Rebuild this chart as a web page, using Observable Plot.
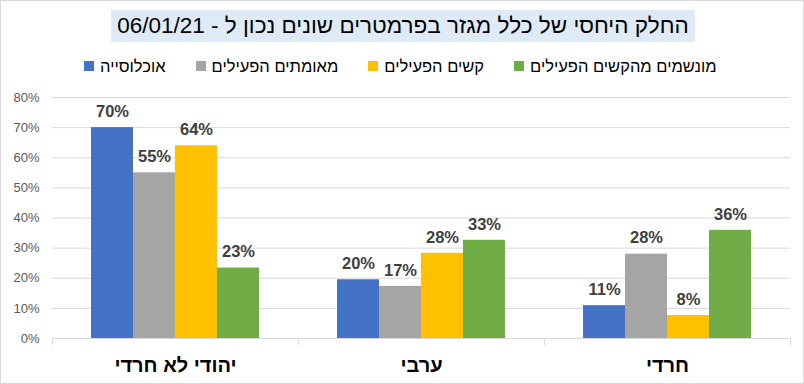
<!DOCTYPE html>
<html><head><meta charset="utf-8">
<script src="https://cdn.jsdelivr.net/npm/d3@7"></script>
<script src="https://cdn.jsdelivr.net/npm/@observablehq/plot@0.6"></script>
<style>
html,body{margin:0;padding:0;background:#fff;}
#wrap{width:804px;height:384px;box-sizing:border-box;border:1px solid #d9d9d9;position:relative;overflow:hidden;font-family:"Liberation Sans",Arial,sans-serif;}
#title{position:absolute;left:110px;top:9px;width:584px;height:32px;background:#deebf7;direction:rtl;text-align:center;font-size:22.5px;line-height:32px;color:#000;}
#legend{position:absolute;left:83px;top:55px;display:flex;direction:ltr;font-size:16.5px;line-height:20px;color:#000;white-space:nowrap;}
.item{display:flex;align-items:center;margin-right:30px;}
.sw{width:10px;height:10px;margin-right:6px;}
.lab{direction:rtl;}
#chart{position:absolute;left:0;top:80px;}
</style></head>
<body><div id="wrap"><div id="title"></div><div id="legend"></div><div id="chart"></div></div>
<script>
const titleText = "החלק היחסי של כלל מגזר בפרמטרים שונים נכון ל - 06/01/21";
const categories = ["יהודי לא חרדי", "ערבי", "חרדי"];
const series = ["אוכלוסייה", "מאומתים הפעילים", "קשים הפעילים", "מונשמים מהקשים הפעילים"];
const colors = ["#4472c4", "#a5a5a5", "#ffc000", "#70ad47"];
const population = [70, 19.5, 10.9];
const confirmed = [55, 17.3, 28];
const severe = [64, 28.3, 7.6];
const ventilated = [23.4, 32.6, 35.9];
const labels = [["70%","20%","11%"],["55%","17%","28%"],["64%","28%","8%"],["23%","33%","36%"]];
const yTicks = [0,10,20,30,40,50,60,70,80];

document.getElementById("title").textContent = titleText;
const leg = document.getElementById("legend");
series.forEach((s,i)=>{
  const it=document.createElement("div");it.className="item";
  const sw=document.createElement("div");sw.className="sw";sw.style.background=colors[i];
  const lb=document.createElement("span");lb.className="lab";lb.textContent=s;
  it.appendChild(sw);it.appendChild(lb);leg.appendChild(it);
});

const valuesBySeries=[population,confirmed,severe,ventilated];
const data=[];
series.forEach((s,si)=>categories.forEach((c,ci)=>data.push({category:c,series:s,value:valuesBySeries[si][ci],label:labels[si][ci]})));

const chart = Plot.plot({
  width:802, height:303,
  marginTop:16, marginBottom:46, marginLeft:51, marginRight:13,
  style:{fontFamily:"'Liberation Sans', Arial, sans-serif", background:"transparent"},
  fx:{domain:categories, padding:0, label:null},
  x:{domain:series, paddingInner:0, paddingOuter:0.92, axis:null},
  y:{domain:[0,80], ticks:yTicks, label:null},
  color:{domain:series, range:colors},
  marks:[
    Plot.gridY(yTicks.filter(d=>d>0),{stroke:"#d9d9d9",strokeOpacity:1}),
    Plot.axisY(yTicks,{tickSize:0,tickPadding:13,tickFormat:d=>d+"%",fontSize:13,fill:"#595959",label:null}),
    Plot.ruleY([0],{stroke:"#d9d9d9"}),
    Plot.frame({anchor:"left",stroke:"#d9d9d9",insetTop:241,insetBottom:-6}),
    Plot.frame({anchor:"right",stroke:"#d9d9d9",insetTop:241,insetBottom:-6}),
    Plot.barY(data,{fx:"category",x:"series",y:"value",fill:"series",inset:0}),
    Plot.text(data,{fx:"category",x:"series",y:"value",text:"label",dy:-16,fontSize:16.5,fontWeight:"bold",fill:"#404040"}),
    Plot.axisFx({anchor:"bottom",tickSize:0,tickPadding:19,fontSize:20,fontWeight:"bold",fill:"#000",label:null})
  ]
});
document.getElementById("chart").appendChild(chart);
</script></body></html>
